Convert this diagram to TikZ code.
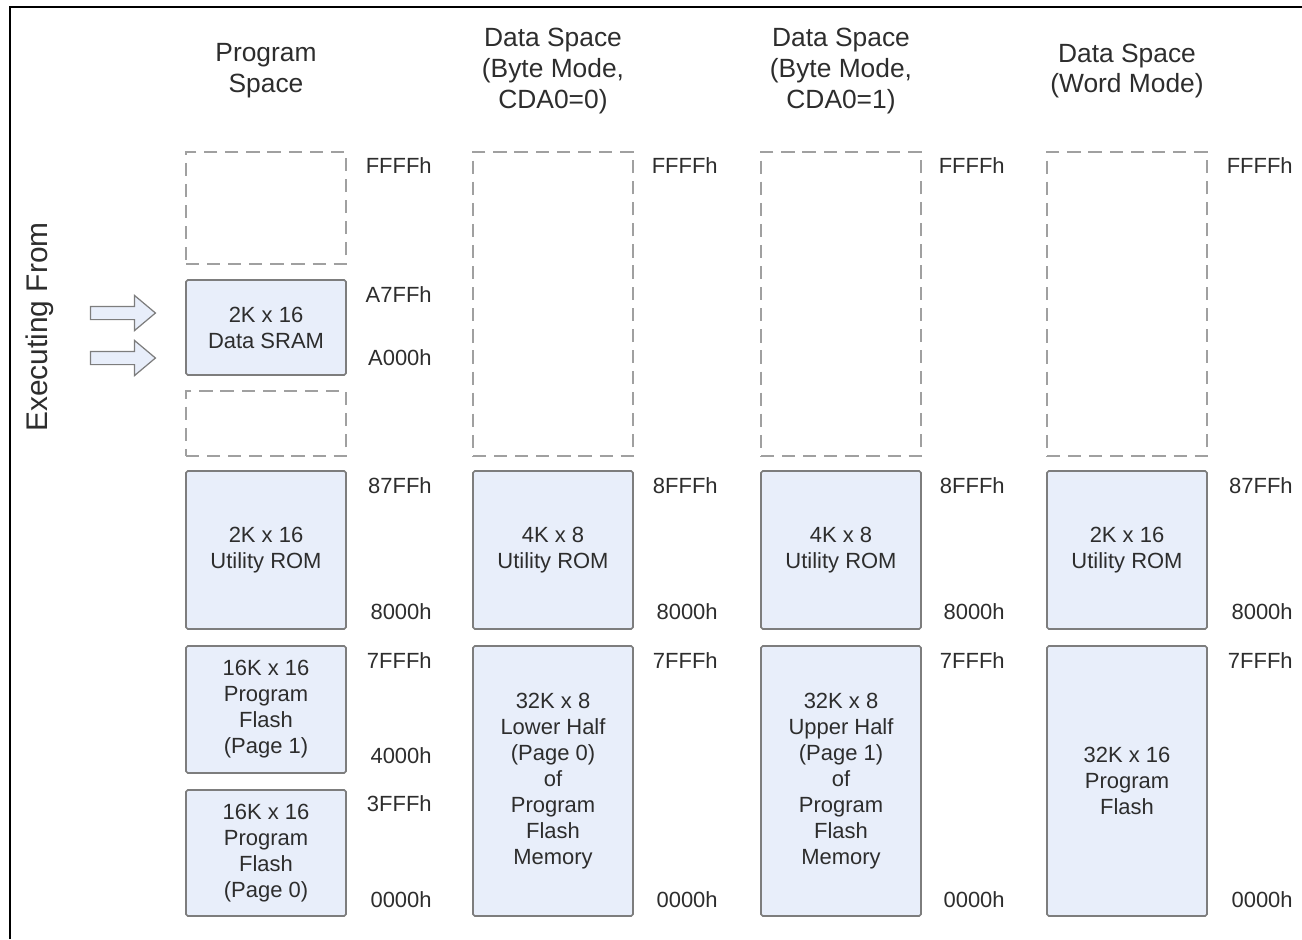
\documentclass[tikz,border=0pt]{standalone}
\usepackage{fontspec}
\setmainfont{Liberation Sans}
\usetikzlibrary{shapes.arrows}
\definecolor{memfill}{RGB}{232,238,250}
\definecolor{memline}{RGB}{125,125,125}
\definecolor{voidline}{RGB}{160,160,160}
\definecolor{txt}{RGB}{45,45,45}
\begin{document}
\begin{tikzpicture}[
		text=txt,
		head/.style={align=center, font=\fontsize{15}{17.6}\selectfont},
		mem/.style={rectangle, draw=memline, fill=memfill, line width=0.9pt, rounded corners=1pt, minimum width=3.2cm, inner sep=0pt, align=center, font=\fontsize{12.5}{14.8}\selectfont},
		void/.style={rectangle, draw=voidline, line width=1.1pt, dash pattern=on 7.5pt off 4.5pt, minimum width=3.2cm},
		addr/.style={anchor=east, inner sep=0pt, font=\fontsize{12.5}{14}\selectfont},
		exec/.style={single arrow, draw=memline, fill=memfill, line width=0.7pt, minimum height=1.3cm, inner xsep=0pt, inner ysep=0.12cm, single arrow head extend=0.22cm, single arrow tip angle=80}
	]
		\useasboundingbox (0,0) rectangle (26.04,-18.78);
		% frame
		\draw[line width=1.2pt] (0.2,-18.78) -- (0.2,-0.14) -- (26.04,-0.14);
		% column titles
		\node[head] (t1) at (5.32,-1.42) {Program\\Space};
		\node[head] (t2) at (11.06,-1.42) {Data Space\\(Byte Mode,\\CDA0=0)};
		\node[head] (t3) at (16.82,-1.42) {Data Space\\(Byte Mode,\\CDA0=1)};
		\node[head] (t4) at (22.54,-1.42) {Data Space\\(Word Mode)};
		\node[rotate=90, font=\fontsize{17}{20}\selectfont] (exe) at (0.8,-6.54) {Executing From};
		\node[exec] (a1) at (2.38,-6.26) {};
		\node[exec] (a2) at (2.38,-7.16) {};
		% program space
		\node[void, minimum height=2.24cm] (p1) at (5.32,-4.16) {};
		\node[mem, minimum height=1.9cm] (sram) at (5.32,-6.55) {2K x 16\\Data SRAM};
		\node[void, minimum height=1.3cm] (p2) at (5.32,-8.47) {};
		\node[mem, minimum height=3.16cm] (prom) at (5.32,-11.0) {2K x 16\\Utility ROM};
		\node[mem, minimum height=2.54cm] (pg1) at (5.32,-14.19) {16K x 16\\Program\\Flash\\(Page 1)};
		\node[mem, minimum height=2.52cm] (pg0) at (5.32,-17.06) {16K x 16\\Program\\Flash\\(Page 0)};
		% data space, byte mode, CDA0=0
		\node[void, minimum height=6.08cm] (b0v) at (11.06,-6.08) {};
		\node[mem, minimum height=3.16cm] (b0rom) at (11.06,-11.0) {4K x 8\\Utility ROM};
		\node[mem, minimum height=5.4cm] (b0fl) at (11.06,-15.62) {32K x 8\\Lower Half\\(Page 0)\\of\\Program\\Flash\\Memory};
		% data space, byte mode, CDA0=1
		\node[void, minimum height=6.08cm] (b1v) at (16.82,-6.08) {};
		\node[mem, minimum height=3.16cm] (b1rom) at (16.82,-11.0) {4K x 8\\Utility ROM};
		\node[mem, minimum height=5.4cm] (b1fl) at (16.82,-15.62) {32K x 8\\Upper Half\\(Page 1)\\of\\Program\\Flash\\Memory};
		% data space, word mode
		\node[void, minimum height=6.08cm] (wv) at (22.54,-6.08) {};
		\node[mem, minimum height=3.16cm] (wrom) at (22.54,-11.0) {2K x 16\\Utility ROM};
		\node[mem, minimum height=5.4cm] (wfl) at (22.54,-15.62) {32K x 16\\Program\\Flash};
		% addresses
		\node[addr] (l1a) at (8.64,-3.32) {FFFFh};
		\node[addr] (l1b) at (8.64,-5.9) {A7FFh};
		\node[addr] (l1c) at (8.64,-7.16) {A000h};
		\node[addr] (l1d) at (8.64,-9.72) {87FFh};
		\node[addr] (l1e) at (8.64,-12.24) {8000h};
		\node[addr] (l1f) at (8.64,-13.22) {7FFFh};
		\node[addr] (l1g) at (8.64,-15.12) {4000h};
		\node[addr] (l1h) at (8.64,-16.08) {3FFFh};
		\node[addr] (l1i) at (8.64,-18.0) {0000h};
		\node[addr] (l2a) at (14.36,-3.32) {FFFFh};
		\node[addr] (l2b) at (14.36,-9.72) {8FFFh};
		\node[addr] (l2c) at (14.36,-12.24) {8000h};
		\node[addr] (l2d) at (14.36,-13.22) {7FFFh};
		\node[addr] (l2e) at (14.36,-18.0) {0000h};
		\node[addr] (l3a) at (20.1,-3.32) {FFFFh};
		\node[addr] (l3b) at (20.1,-9.72) {8FFFh};
		\node[addr] (l3c) at (20.1,-12.24) {8000h};
		\node[addr] (l3d) at (20.1,-13.22) {7FFFh};
		\node[addr] (l3e) at (20.1,-18.0) {0000h};
		\node[addr] (l4a) at (25.86,-3.32) {FFFFh};
		\node[addr] (l4b) at (25.86,-9.72) {87FFh};
		\node[addr] (l4c) at (25.86,-12.24) {8000h};
		\node[addr] (l4d) at (25.86,-13.22) {7FFFh};
		\node[addr] (l4e) at (25.86,-18.0) {0000h};
	\end{tikzpicture}
\end{document}
